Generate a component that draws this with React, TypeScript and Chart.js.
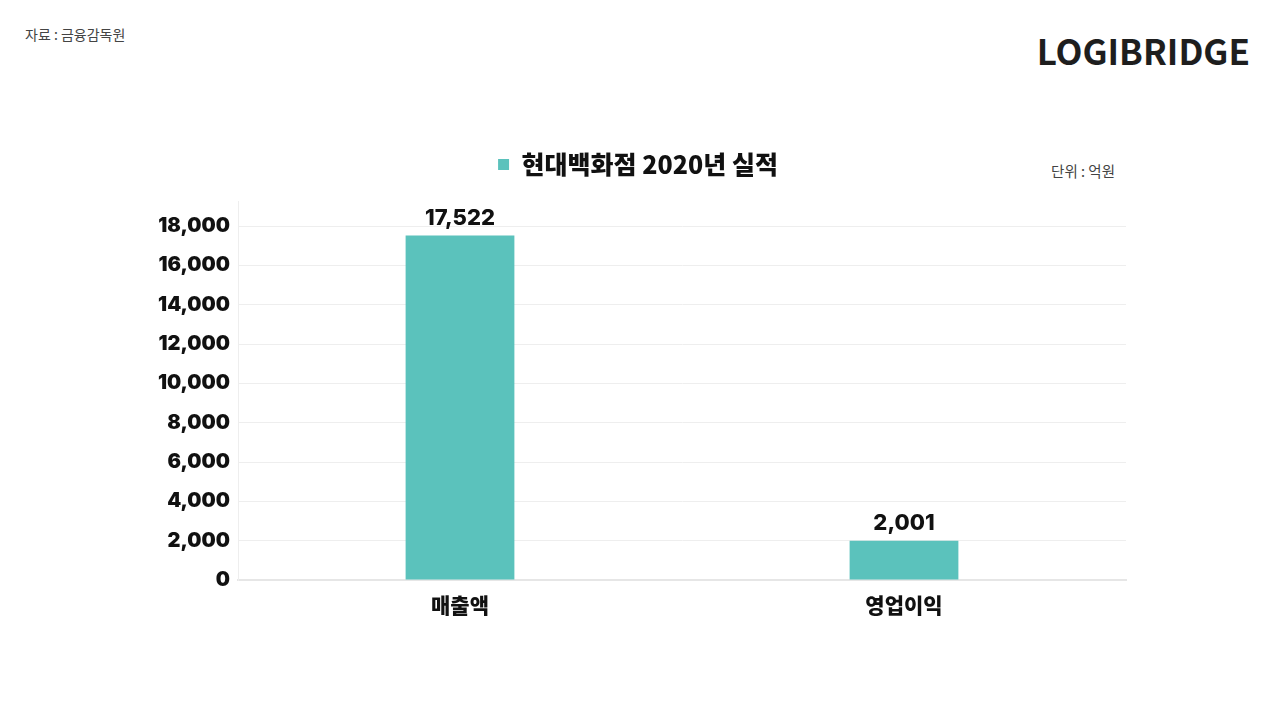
import React, { useEffect, useRef } from 'react';
import { Chart, registerables } from 'chart.js';

Chart.register(...registerables);

const categories = ['매출액', '영업이익'];
const seriesLabel = '현대백화점 2020년 실적';
const seriesValues = [17522, 2001];
const barColor = '#5bc2bc';
const yStep = 2000;

const numFont = "Inter, 'Noto Sans CJK KR', sans-serif";
const korFont = "'Noto Sans CJK KR', sans-serif";

const yMax = Math.max(...seriesValues) * 1.1;

const valueLabels = {
  id: 'valueLabels',
  afterDatasetsDraw(chart: Chart) {
    const ctx = chart.ctx;
    const meta = chart.getDatasetMeta(0);
    ctx.save();
    ctx.font = `800 22px ${numFont}`;
    ctx.fillStyle = '#111';
    ctx.textAlign = 'center';
    ctx.textBaseline = 'bottom';
    meta.data.forEach((bar: any, i: number) => {
      const v = chart.data.datasets[0].data[i] as number;
      ctx.fillText(v.toLocaleString('en-US'), bar.x, bar.y - 6);
    });
    ctx.restore();
  },
};

// the legend sits a bit higher above the plot than Chart.js leaves by default
const legendGap = {
  id: 'legendGap',
  beforeInit(chart: any) {
    const fit = chart.legend.fit;
    chart.legend.fit = function () {
      fit.bind(chart.legend)();
      this.height += 14;
    };
  },
};

const isStep = (v: number) => Math.abs(v % yStep) < 1e-6;

const BarChart: React.FC = () => {
  const canvasRef = useRef<HTMLCanvasElement>(null);

  useEffect(() => {
    if (!canvasRef.current) return;
    const chart = new Chart(canvasRef.current, {
      type: 'bar',
      data: {
        labels: categories,
        datasets: [
          {
            label: seriesLabel,
            data: seriesValues,
            backgroundColor: barColor,
            borderWidth: 0,
            barPercentage: 0.245,
            categoryPercentage: 1,
          },
        ],
      },
      options: {
        animation: false,
        responsive: false,
        layout: { padding: { top: 0, right: 2, bottom: 0, left: 0 } },
        plugins: {
          legend: {
            display: true,
            position: 'top',
            labels: {
              boxWidth: 11,
              boxHeight: 11,
              color: '#111',
              padding: 20,
              font: { family: korFont, size: 25, weight: 900 },
            },
          },
          tooltip: { enabled: false },
        },
        scales: {
          x: {
            grid: { display: false },
            border: { color: '#e6e6e6', width: 2 },
            ticks: {
              color: '#111',
              padding: 4,
              font: { family: korFont, size: 21, weight: 900 },
            },
            afterFit(scale: any) {
              scale.height = 60;
            },
          },
          y: {
            beginAtZero: true,
            max: yMax,
            ticks: {
              stepSize: yStep,
              autoSkip: false,
              color: '#111',
              padding: 8,
              font: { family: numFont, size: 20, weight: 900 },
              callback: (v: any) => (isStep(Number(v)) ? Number(v).toLocaleString('en-US') : ''),
            },
            grid: {
              color: (c: any) => (c.tick && isStep(c.tick.value) ? '#eeeeee' : 'rgba(0,0,0,0)'),
              drawTicks: false,
            },
            border: { color: '#eeeeee' },
            afterFit(scale: any) {
              scale.width = 88;
            },
          },
        },
      },
      plugins: [legendGap, valueLabels],
    });
    return () => chart.destroy();
  }, []);

  return <canvas ref={canvasRef} width={978} height={508} />;
};

export default function App() {
  return (
    <div style={{ position: 'absolute', left: 0, top: 0, width: 1280, height: 720, background: '#fff' }}>
      <div style={{ position: 'absolute', left: 25, top: 24, fontFamily: korFont, fontSize: 14, color: '#444' }}>
        자료 : 금융감독원
      </div>
      <div
        style={{
          position: 'absolute',
          right: 30,
          top: 24,
          fontFamily: korFont,
          fontSize: 35,
          fontWeight: 700,
          color: '#1e1e1e',
        }}
      >
        LOGIBRIDGE
      </div>
      <div
        style={{ position: 'absolute', right: 165, top: 160, fontFamily: korFont, fontSize: 14.5, color: '#444' }}
      >
        단위 : 억원
      </div>
      <div style={{ position: 'absolute', left: 150, top: 132 }}>
        <BarChart />
      </div>
    </div>
  );
}
